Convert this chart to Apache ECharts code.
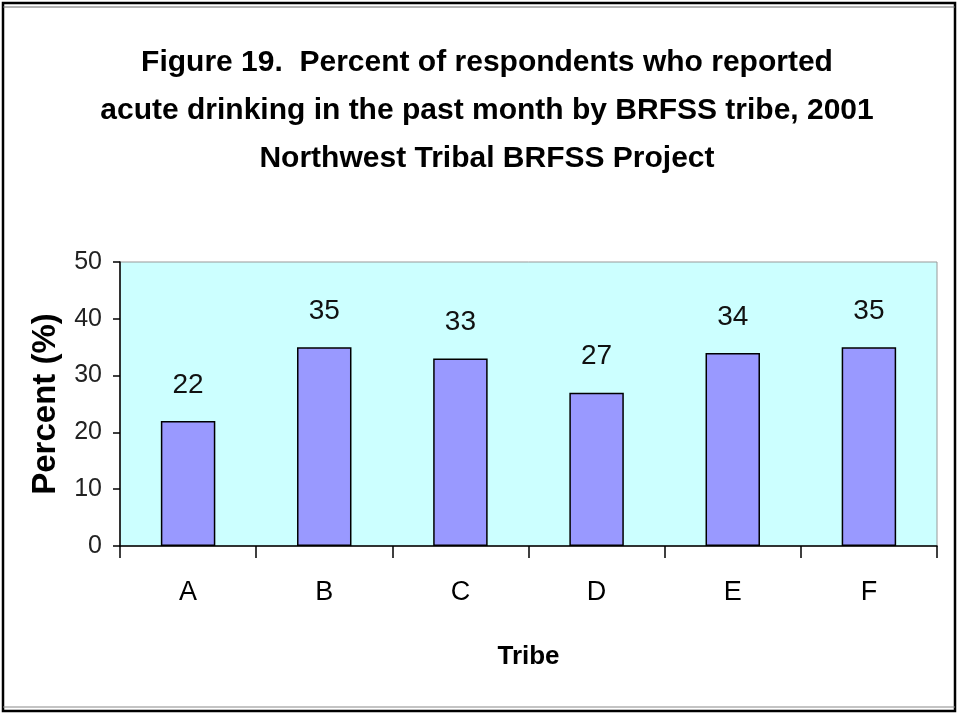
<!DOCTYPE html>
<html>
<head>
<meta charset="utf-8">
<script src="https://cdn.jsdelivr.net/npm/echarts@6/dist/echarts.min.js"></script>
<style>
  html, body { margin: 0; padding: 0; background: #fff; }
  #main { width: 960px; height: 719px; }
</style>
</head>
<body>
<div id="main"></div>
<script>
// 数据
var tribes = ['A', 'B', 'C', 'D', 'E', 'F'];
var percents = [22, 35, 33, 27, 34, 35];
var titleLines = [
  'Figure 19.  Percent of respondents who reported',
  'acute drinking in the past month by BRFSS tribe, 2001',
  'Northwest Tribal BRFSS Project'
];

var chart = echarts.init(document.getElementById('main'), null, { renderer: 'canvas' });
var font = 'Liberation Sans, Arial, sans-serif';

chart.setOption({
  backgroundColor: '#fff',
  animation: false,
  title: {
    text: titleLines.join('\n'),
    left: 482,
    textAlign: 'center',
    top: 34,
    textStyle: {
      fontFamily: font,
      fontSize: 30,
      fontWeight: 'bold',
      lineHeight: 48,
      color: '#000'
    }
  },
  // 外框
  graphic: [{
    type: 'rect',
    shape: { x: 3, y: 3, width: 952, height: 708 },
    style: { fill: null, stroke: '#000', lineWidth: 2.5 },
    silent: true
  }, {
    type: 'line',
    shape: { x1: 3, y1: 7, x2: 955, y2: 7 },
    style: { stroke: '#666', lineWidth: 1 },
    silent: true
  }, {
    type: 'line',
    shape: { x1: 3, y1: 707, x2: 955, y2: 707 },
    style: { stroke: '#888', lineWidth: 1 },
    silent: true
  }],
  grid: {
    left: 120,
    right: 23,
    top: 262,
    bottom: 173,
    show: true,
    backgroundColor: '#CCFFFF',
    borderColor: '#999',
    borderWidth: 1
  },
  xAxis: {
    type: 'category',
    data: tribes,
    name: 'Tribe',
    nameLocation: 'middle',
    nameGap: 98,
    nameTextStyle: { fontFamily: font, fontSize: 26, fontWeight: 'bold', color: '#000' },
    axisLine: { lineStyle: { color: '#000', width: 1.5 } },
    axisTick: { show: true, length: 12, lineStyle: { color: '#000', width: 1.5 } },
    axisLabel: { fontFamily: font, fontSize: 27, color: '#000', margin: 33 }
  },
  yAxis: {
    type: 'value',
    min: 0,
    max: 50,
    interval: 10,
    name: 'Percent (%)',
    nameLocation: 'middle',
    nameGap: 58,
    nameTextStyle: { fontFamily: font, fontSize: 33, fontWeight: 'bold', color: '#000' },
    axisLine: { show: true, lineStyle: { color: '#000', width: 1.5 } },
    axisTick: { show: true, length: 7, lineStyle: { color: '#000', width: 1.5 } },
    axisLabel: { fontFamily: font, fontSize: 25, color: '#222', margin: 18 },
    splitLine: { show: false }
  },
  series: [{
    type: 'bar',
    data: percents,
    barWidth: '40%',
    itemStyle: { color: '#9999FF', borderColor: '#000', borderWidth: 1.5 },
    label: {
      show: true,
      position: 'top',
      distance: 22,
      fontFamily: font,
      fontSize: 28,
      color: '#111'
    }
  }]
});
</script>
</body>
</html>
